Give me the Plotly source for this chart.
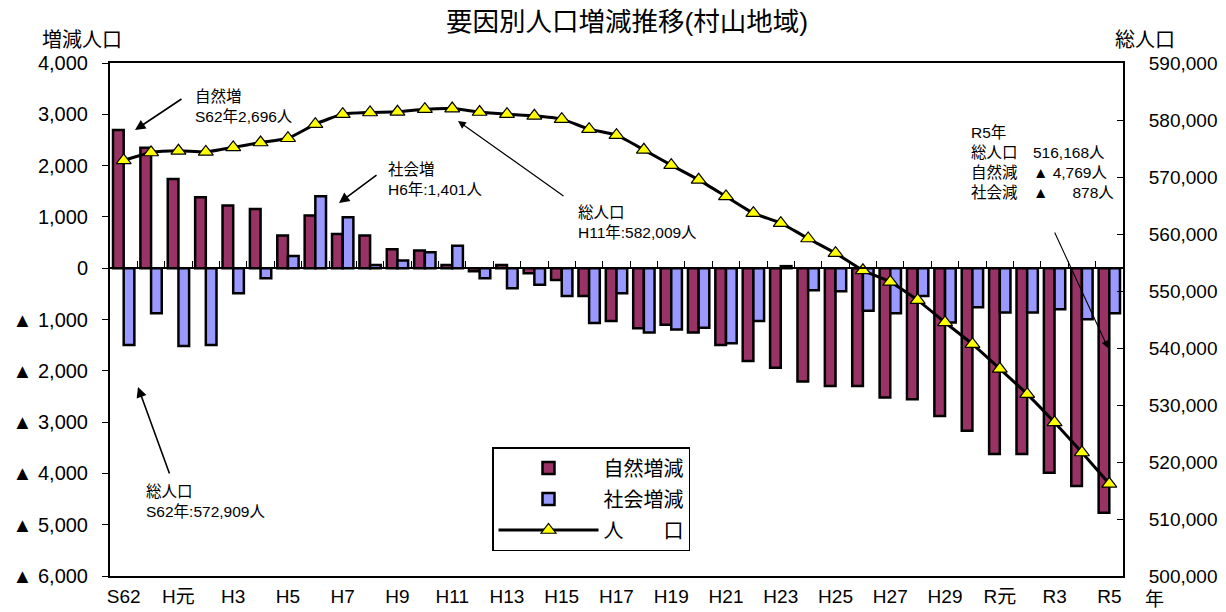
import plotly.graph_objects as go

# ---------------- data ----------------
years = ["S62", "S63", "H元", "H2", "H3", "H4", "H5", "H6", "H7", "H8", "H9", "H10",
         "H11", "H12", "H13", "H14", "H15", "H16", "H17", "H18", "H19", "H20", "H21",
         "H22", "H23", "H24", "H25", "H26", "H27", "H28", "H29", "H30", "R元", "R2",
         "R3", "R4", "R5"]

tick_years = ["S62", "H元", "H3", "H5", "H7", "H9", "H11", "H13", "H15", "H17", "H19",
              "H21", "H23", "H25", "H27", "H29", "R元", "R3", "R5"]

natural = [2696, 2350, 1740, 1384, 1220, 1156, 636, 1025, 668, 636, 370, 343,
           60, -60, 60, -100, -230, -540, -1030, -1170, -1100, -1255, -1495,
           -1807, -1940, -2210, -2295, -2295, -2520, -2555, -2880, -3170, -3620,
           -3620, -3985, -4245, -4769]

social = [-1495, -877, -1515, -1495, -490, -195, 240, 1401, 994, 60, 150, 310,
          440, -195, -390, -325, -540, -1070, -490, -1255, -1195, -1160, -1465,
          -1030, 40, -430, -450, -830, -877, -540, -1060, -760, -865, -865, -800,
          -995, -878]

population = [572909, 574300, 574600, 574400, 575200, 576050, 576800, 579270,
              581030, 581320, 581440, 581900, 582009, 581400, 581030, 580740,
              580150, 578400, 577340, 574770, 572080, 569500, 566590, 563660,
              561900, 559210, 556640, 553630, 551610, 548400, 544480, 540680,
              536350, 531900, 526940, 521670, 516168]

left_ticks = [-6000, -5000, -4000, -3000, -2000, -1000, 0, 1000, 2000, 3000, 4000]
right_ticks = [500000, 510000, 520000, 530000, 540000, 550000, 560000, 570000, 580000, 590000]

left_ticktext = [("▲ " + f"{-v:,}") if v < 0 else f"{v:,}" for v in left_ticks]

# ---------------- layout helpers ----------------
# the page body has an 8px margin, so the figure is drawn from (8, 8)
OFF = 8
W, H = 1218, 604
L, R, T, B = 102, 103, 55, 36
PW, PH = W - L - R, H - T - B


def px(x):
    # page pixel x -> paper fraction
    return (x - OFF - L) / PW


def py(y):
    # page pixel y -> paper fraction
    return (OFF + H - B - y) / PH


FONT = "Liberation Sans, Arial, Noto Sans CJK JP, sans-serif"

fig = go.Figure()

fig.add_bar(x=years, y=natural, name="自然増減", legendgroup="a",
            marker=dict(color="#993366", line=dict(color="black", width=2.5)))
fig.add_bar(x=years, y=social, name="社会増減", legendgroup="b",
            marker=dict(color="#9999FF", line=dict(color="black", width=2.5)))
fig.add_scatter(x=years, y=population, name="人　　口", legendgroup="c",
                mode="lines+markers", xaxis="x2", yaxis="y2",
                line=dict(color="black", width=3, shape="spline", smoothing=0.5),
                marker=dict(symbol="triangle-up", size=13, color="#FFFF00",
                            line=dict(color="black", width=1.2)))

fig.update_layout(
    width=W, height=H,
    margin=dict(l=L, r=R, t=T, b=B, autoexpand=False),
    paper_bgcolor="white", plot_bgcolor="white",
    font=dict(family=FONT, color="black", size=20),
    barmode="group", bargap=0.22, bargroupgap=0,
    xaxis=dict(type="category", range=[-0.5, 36.5], tickvals=tick_years,
               ticktext=tick_years, ticks="", showgrid=False, zeroline=False,
               showline=True, mirror=True, linecolor="black", linewidth=2,
               tickfont=dict(size=19), ticklabelstandoff=2, automargin=False),
    xaxis2=dict(type="category", range=[-0.5, 36.5], overlaying="x", anchor="free",
                position=0.6, showticklabels=False, tickson="boundaries",
                ticks="inside", ticklen=6, tickcolor="black", tickwidth=1,
                showgrid=False, zeroline=False, showline=True,
                linecolor="black", linewidth=1.5),
    yaxis=dict(range=[-6000, 4000], tickvals=left_ticks, ticktext=left_ticktext,
               ticks="outside", ticklen=6, tickcolor="black", showgrid=False,
               zeroline=False, showline=True, mirror=True, linecolor="black",
               linewidth=2, tickfont=dict(size=20), ticklabelstandoff=10,
               automargin=False),
    yaxis2=dict(range=[500000, 590000], tickvals=right_ticks, tickformat=",",
                overlaying="y", side="right", anchor="x2", ticks="inside",
                ticklen=6, tickcolor="black", showgrid=False, zeroline=False,
                showline=True, linecolor="black", linewidth=2,
                tickfont=dict(size=19), ticklabelstandoff=20, automargin=False),
    legend=dict(x=px(492), y=py(447), xanchor="left", yanchor="top",
                bgcolor="white", bordercolor="black", borderwidth=1.5,
                font=dict(size=20), itemwidth=100, traceorder="grouped",
                tracegroupgap=2),
    showlegend=True,
)

ann = []
# titles
ann.append(dict(text="要因別人口増減推移(村山地域)", x=px(627), y=py(22), xref="paper",
                yref="paper", showarrow=False, font=dict(size=26.5), xanchor="center",
                yanchor="middle"))
ann.append(dict(text="増減人口", x=px(40), y=py(40), xref="paper", yref="paper",
                showarrow=False, font=dict(size=20), xanchor="left", yanchor="middle"))
ann.append(dict(text="総人口", x=px(1113), y=py(40), xref="paper", yref="paper",
                showarrow=False, font=dict(size=20), xanchor="left", yanchor="middle"))
ann.append(dict(text="年", x=px(1143), y=py(599), xref="paper", yref="paper",
                showarrow=False, font=dict(size=19), xanchor="left", yanchor="middle"))

# callout texts
notes = [
    ("自然増<br>S62年2,696人", 193, 86),
    ("社会増<br>H6年:1,401人", 386, 159),
    ("総人口<br>H11年:582,009人", 576, 202),
    ("総人口<br>S62年:572,909人", 144, 481),
    ("R5年<br>総人口　516,168人<br>自然減　▲ 4,769人<br>社会減　▲　  878人", 969, 122),
]
for txt, x0, y0 in notes:
    ann.append(dict(text=txt, x=px(x0), y=py(y0), xref="paper", yref="paper",
                    showarrow=False, align="left", xanchor="left", yanchor="top",
                    font=dict(size=15.5)))

# arrows: (tail_x, tail_y, head_x, head_y, width)
arrows = [
    (183, 98, 135, 130, 1.6),
    (378, 174, 339, 203, 1.6),
    (565, 197, 458, 121, 1.2),
    (170, 475, 138, 387, 1.6),
    (1054, 231, 1108, 348, 1.1),
]
for tx, ty, hx, hy, w in arrows:
    ann.append(dict(text="", x=px(hx), y=py(hy), xref="paper", yref="paper",
                    ax=tx - hx, ay=ty - hy, axref="pixel", ayref="pixel",
                    showarrow=True, arrowhead=2, arrowsize=1.3, arrowwidth=w,
                    arrowcolor="black"))

fig.update_layout(annotations=ann)

fig.write_html("out.html")
